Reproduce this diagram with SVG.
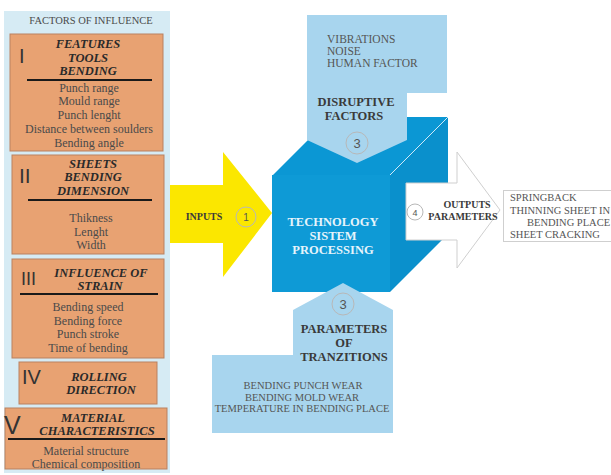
<svg xmlns="http://www.w3.org/2000/svg" width="611" height="475" viewBox="0 0 611 475">
<style>
.s{font-family:"Liberation Serif","Times New Roman",serif}
.item{font-family:"Liberation Serif",serif;font-size:12px;fill:#4a4a4a;text-anchor:middle}
.ttl{font-family:"Liberation Serif",serif;font-size:12.5px;font-weight:bold;font-style:italic;fill:#2a2a2a;text-anchor:middle}
.rom{font-family:"Liberation Sans",Arial,sans-serif;fill:#333}
.box{fill:#e8a272;stroke:#b98160;stroke-width:1}
.ul{stroke:#1a1a1a;stroke-width:2}
.circ{fill:none;stroke:#b8b8b8;stroke-width:1}
.num{font-family:"Liberation Sans",Arial,sans-serif;fill:#555;text-anchor:middle}
.lb{fill:#a8d5ee}
.cap{font-family:"Liberation Serif",serif;fill:#555}
.bold{font-family:"Liberation Serif",serif;font-weight:bold;fill:#3a3a3a;text-anchor:middle}
</style>
<rect width="611" height="475" fill="#ffffff"/>

<g id="factors-panel">
<rect x="4" y="11" width="166" height="462" fill="#d6ebf4"/>
<text class="s" x="91" y="24" font-size="10.5" fill="#4a4a4a" text-anchor="middle">FACTORS OF INFLUENCE</text>
</g>

<g id="box-I">
<rect class="box" x="10" y="34" width="153" height="117"/>
<text class="rom" x="19" y="63" font-size="20">I</text>
<text class="ttl" x="88" y="48">FEATURES</text>
<text class="ttl" x="88" y="61.5">TOOLS</text>
<text class="ttl" x="88" y="75">BENDING</text>
<line class="ul" x1="27" y1="80" x2="152" y2="80"/>
<text class="item" x="89" y="92">Punch range</text>
<text class="item" x="89" y="105">Mould range</text>
<text class="item" x="89" y="119">Punch lenght</text>
<text class="item" x="89" y="133">Distance between soulders</text>
<text class="item" x="89" y="147">Bending angle</text>
</g>

<g id="box-II">
<rect class="box" x="12" y="155" width="152" height="99"/>
<text class="rom" x="19" y="183" font-size="21">II</text>
<text class="ttl" x="93" y="167.5">SHEETS</text>
<text class="ttl" x="93" y="181">BENDING</text>
<text class="ttl" x="93" y="194.5">DIMENSION</text>
<line class="ul" x1="28" y1="200" x2="152" y2="200"/>
<text class="item" x="91" y="222">Thikness</text>
<text class="item" x="91" y="236">Lenght</text>
<text class="item" x="91" y="249">Width</text>
</g>

<g id="box-III">
<rect class="box" x="12" y="259" width="152" height="99"/>
<text class="rom" x="21" y="285" font-size="18">III</text>
<text class="ttl" x="101" y="277">INFLUENCE OF</text>
<text class="ttl" x="100" y="290">STRAIN</text>
<line class="ul" x1="20" y1="294" x2="158" y2="294"/>
<text class="item" x="88" y="311">Bending speed</text>
<text class="item" x="88" y="325">Bending force</text>
<text class="item" x="88" y="338">Punch stroke</text>
<text class="item" x="88" y="352">Time of bending</text>
</g>

<g id="box-IV">
<rect class="box" x="19" y="362" width="138" height="42"/>
<text class="rom" x="22" y="384" font-size="20">IV</text>
<text class="ttl" x="99" y="381">ROLLING</text>
<text class="ttl" x="101" y="394">DIRECTION</text>
</g>

<g id="box-V">
<rect class="box" x="5" y="408" width="162" height="61"/>
<text class="rom" x="4" y="434" font-size="25">V</text>
<text class="ttl" x="93" y="422">MATERIAL</text>
<text class="ttl" x="97" y="435" font-size="13">CHARACTERISTICS</text>
<line class="ul" x1="8" y1="439" x2="165" y2="439"/>
<text class="item" x="86" y="455">Material structure</text>
<text class="item" x="86" y="468">Chemical composition</text>
</g>

<g id="cube">
<polygon points="273,175 331,117 448,117 390,175" fill="#0b97d4"/>
<polygon points="390,175 448,117 448,234 390,292" fill="#0a90cc"/>
<rect x="272" y="175" width="118" height="117" fill="#0e9ad6"/>
<line x1="390" y1="175" x2="448" y2="117" stroke="#cfeaf7" stroke-width="1"/>
<text class="s" x="333" y="226" font-size="12.5" font-weight="bold" fill="#e6f4fb" text-anchor="middle">TECHNOLOGY</text>
<text class="s" x="333" y="240" font-size="12.5" font-weight="bold" fill="#e6f4fb" text-anchor="middle">SISTEM</text>
<text class="s" x="333" y="254" font-size="12.5" font-weight="bold" fill="#e6f4fb" text-anchor="middle">PROCESSING</text>
</g>

<g id="connectors">
<g id="inputs-arrow">
<polygon points="170,185 223,185 223,152 272,213 223,277 223,243 170,243" fill="#fbe700"/>
<text class="bold" x="204" y="220" font-size="10" fill="#2a2a2a">INPUTS</text>
<circle class="circ" cx="246" cy="217" r="10" stroke="#c9bb40"/>
<text class="num" x="246" y="221" font-size="10">1</text>
</g>
<g id="outputs-arrow">
<polygon points="406,183 457,183 457,152 500,210 457,268 457,240 406,240" fill="#ffffff" stroke="#cfcfcf" stroke-width="1"/>
<circle class="circ" cx="415" cy="212" r="8"/>
<text class="num" x="415" y="215.5" font-size="9">4</text>
<text class="bold" x="467" y="208" font-size="10">OUTPUTS</text>
<text class="bold" x="463" y="220" font-size="10">PARAMETERS</text>
</g>
</g>

<g id="disruptive-factors">
<polygon class="lb" points="307,15 447,15 447,93 407,93 407,140 357,163 307,140"/>
<text class="cap" x="327" y="43" font-size="11.5">VIBRATIONS</text>
<text class="cap" x="327" y="55" font-size="11.5">NOISE</text>
<text class="cap" x="327" y="67" font-size="11.5">HUMAN FACTOR</text>
<text class="bold" x="356" y="106" font-size="12.5">DISRUPTIVE</text>
<text class="bold" x="354" y="120" font-size="12.5">FACTORS</text>
<circle class="circ" cx="357" cy="143" r="11"/>
<text class="num" x="357" y="148" font-size="13">3</text>
</g>

<g id="parameters-of-tranzitions">
<polygon class="lb" points="343,283 393,310 393,433 212,433 212,355 293,355 293,310"/>
<circle class="circ" cx="343" cy="304" r="11"/>
<text class="num" x="343" y="309" font-size="13">3</text>
<text class="bold" x="344" y="333" font-size="12.5">PARAMETERS</text>
<text class="bold" x="344" y="347" font-size="12.5">OF</text>
<text class="bold" x="344" y="361" font-size="12.5">TRANZITIONS</text>
<text class="cap" x="303" y="389" font-size="10.5" text-anchor="middle">BENDING PUNCH WEAR</text>
<text class="cap" x="302" y="401" font-size="10.5" text-anchor="middle">BENDING MOLD WEAR</text>
<text class="cap" x="302" y="412" font-size="10.5" text-anchor="middle">TEMPERATURE IN BENDING PLACE</text>
</g>

<g id="outputs-box">
<rect x="503.5" y="190.5" width="112" height="51" fill="#ffffff" stroke="#cfcfcf" stroke-width="1"/>
<text class="cap" x="510" y="201" font-size="10.5">SPRINGBACK</text>
<text class="cap" x="510" y="214" font-size="10.5">THINNING SHEET IN</text>
<text class="cap" x="527" y="226" font-size="10.5">BENDING PLACE</text>
<text class="cap" x="510" y="238" font-size="10.5">SHEET CRACKING</text>
</g>
</svg>
